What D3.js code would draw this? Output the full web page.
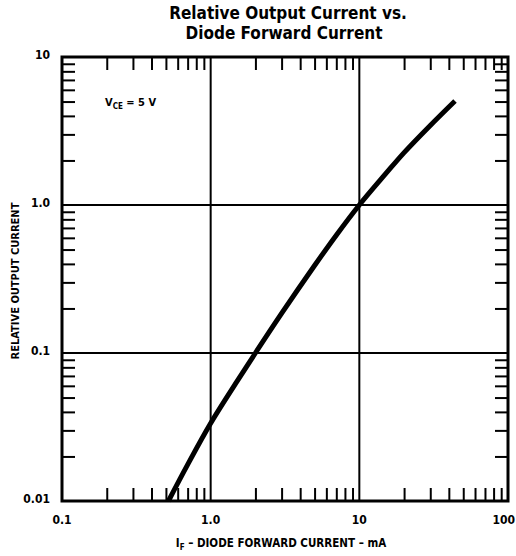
<!DOCTYPE html>
<html lang="en">
<head>
    <meta charset="UTF-8" />
    <title>Relative Output Current vs. Diode Forward Current</title>
    <script src="https://d3js.org/d3.v7.min.js"></script>
    <style>
        body {
            margin: 0;
            background: #fff;
        }
        svg {
            display: block;
            font-family: "DejaVu Sans Condensed", "DejaVu Sans", sans-serif;
            font-weight: bold;
        }
        .tick line {
            stroke: #000;
            stroke-width: 2;
        }
        .domain {
            display: none;
        }
    </style>
</head>
<body>
<div id="chart"></div>

<script>
    // Data (IF in mA, relative output current)
    const forwardCurrent = [0.52, 0.7, 1, 1.5, 2, 3, 5, 7, 10, 15, 20, 30, 44];
    const relativeOutput = [0.01, 0.0176, 0.0335, 0.064, 0.1, 0.185, 0.39, 0.625, 1.0, 1.62, 2.26, 3.45, 5.05];

    const xLabels = ["0.1", "1.0", "10", "100"];
    const xLabelValues = [0.1, 1, 10, 100];
    const yLabels = ["0.01", "0.1", "1.0", "10"];
    const yLabelValues = [0.01, 0.1, 1, 10];
    const xGrid = [1, 10];
    const yGrid = [0.1, 1];

    const width = 516, height = 556;
    const margin = { top: 57, right: 8, bottom: 55, left: 62 };

    const svg = d3.select("#chart").append("svg")
        .attr("width", width)
        .attr("height", height);

    const x = d3.scaleLog().domain([0.1, 100]).range([margin.left, width - margin.right]);
    const y = d3.scaleLog().domain([0.01, 10]).range([height - margin.bottom, margin.top]);

    // minor tick positions (2..9 in each decade)
    function minorTicks(decades) {
        const out = [];
        decades.forEach(d => {
            for (let k = 2; k <= 9; k++) out.push(d * k);
        });
        return out;
    }
    const xMinor = minorTicks([0.1, 1, 10]);
    const yMinor = minorTicks([0.01, 0.1, 1]);

    // Title
    svg.append("text")
        .attr("x", 288).attr("y", 19)
        .attr("text-anchor", "middle")
        .attr("font-size", 17)
        .text("Relative Output Current vs.");
    svg.append("text")
        .attr("x", 284).attr("y", 39)
        .attr("text-anchor", "middle")
        .attr("font-size", 17)
        .text("Diode Forward Current");

    // Grid lines
    svg.append("g").selectAll("line").data(xGrid).join("line")
        .attr("x1", d => x(d)).attr("x2", d => x(d))
        .attr("y1", y(10)).attr("y2", y(0.01))
        .attr("stroke", "#000").attr("stroke-width", 2);
    svg.append("g").selectAll("line").data(yGrid).join("line")
        .attr("x1", x(0.1)).attr("x2", x(100))
        .attr("y1", d => y(d)).attr("y2", d => y(d))
        .attr("stroke", "#000").attr("stroke-width", 2);

    // Inward minor ticks on all four sides
    const tickLen = 13;
    svg.append("g")
        .attr("transform", `translate(0,${y(0.01)})`)
        .call(d3.axisBottom(x).tickValues(xMinor).tickSize(-tickLen).tickFormat(""));
    svg.append("g")
        .attr("transform", `translate(0,${y(10)})`)
        .call(d3.axisTop(x).tickValues(xMinor).tickSize(-tickLen).tickFormat(""));
    svg.append("g")
        .attr("transform", `translate(${x(0.1)},0)`)
        .call(d3.axisLeft(y).tickValues(yMinor).tickSize(-tickLen).tickFormat(""));
    svg.append("g")
        .attr("transform", `translate(${x(100)},0)`)
        .call(d3.axisRight(y).tickValues(yMinor).tickSize(-tickLen).tickFormat(""));

    // Frame
    svg.append("rect")
        .attr("x", x(0.1)).attr("y", y(10))
        .attr("width", x(100) - x(0.1))
        .attr("height", y(0.01) - y(10))
        .attr("fill", "none")
        .attr("stroke", "#000")
        .attr("stroke-width", 3);

    // Tick labels (last x label kept inside the page edge)
    svg.append("g").selectAll("text").data(xLabelValues).join("text")
        .attr("x", d => d === 100 ? width - 1 : x(d))
        .attr("y", y(0.01) + 23)
        .attr("text-anchor", d => d === 100 ? "end" : "middle")
        .attr("font-size", 12)
        .text((d, i) => xLabels[i]);
    svg.append("g").selectAll("text").data(yLabelValues).join("text")
        .attr("x", x(0.1) - 12)
        .attr("y", d => y(d) + 2)
        .attr("text-anchor", "end")
        .attr("font-size", 12)
        .text((d, i) => yLabels[i]);

    // Axis titles
    const xTitle = svg.append("text")
        .attr("x", 281).attr("y", 547)
        .attr("text-anchor", "middle")
        .attr("font-size", 11.5);
    xTitle.append("tspan").text("I");
    xTitle.append("tspan").attr("font-size", 8).attr("dy", 3).text("F");
    xTitle.append("tspan").attr("dy", -3).text(" \u2013 DIODE FORWARD CURRENT \u2013 mA");

    svg.append("text")
        .attr("transform", `translate(19,${(y(1) + y(0.1)) / 2 + 2}) rotate(-90)`)
        .attr("text-anchor", "middle")
        .attr("font-size", 11)
        .text("RELATIVE OUTPUT CURRENT");

    // Condition annotation
    const note = svg.append("text")
        .attr("x", 105).attr("y", 106)
        .attr("font-size", 11);
    note.append("tspan").text("V");
    note.append("tspan").attr("font-size", 8).attr("dy", 3).text("CE");
    note.append("tspan").attr("dy", -3).text(" = 5 V");

    // Curve
    const points = forwardCurrent.map((f, i) => [f, relativeOutput[i]]);
    const line = d3.line()
        .x(d => x(d[0]))
        .y(d => y(d[1]))
        .curve(d3.curveCatmullRom);

    svg.append("path")
        .datum(points)
        .attr("d", line)
        .attr("fill", "none")
        .attr("stroke", "#000")
        .attr("stroke-width", 5);
</script>
</body>
</html>
